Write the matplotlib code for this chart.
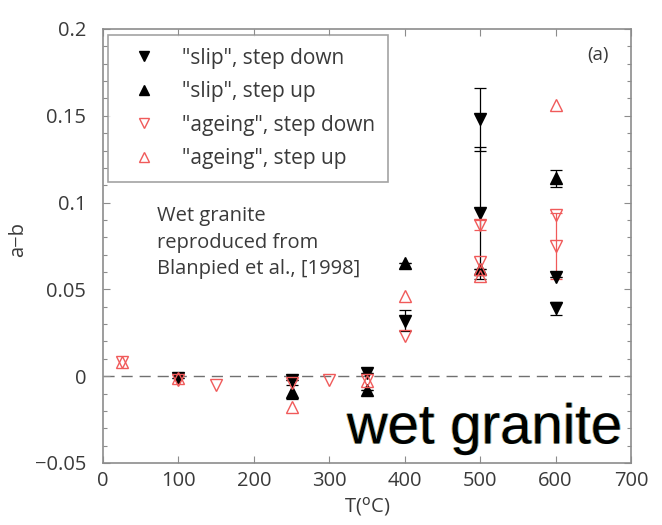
import numpy as np
import matplotlib.pyplot as plt
from matplotlib.ticker import MultipleLocator, FixedLocator, FixedFormatter
import matplotlib.patheffects as pe

plt.rcParams['font.family'] = ['Open Sans', 'DejaVu Sans']

# a-b values for wet granite, slip / ageing law fits
slip_down_T = [100, 250, 350, 400, 500, 500, 600, 600]
slip_down = [-0.001, -0.002, 0.002, 0.032, 0.148, 0.094, 0.057, 0.039]
slip_down_err = [0, 0, 0, 0.006, 0.018, 0.038, 0, 0.004]

slip_up_T = [250, 350, 400, 500, 600]
slip_up = [-0.009, -0.008, 0.065, 0.062, 0.114]
slip_up_err = [0.004, 0, 0, 0, 0.005]

ageing_down_T = [25, 100, 150, 250, 300, 350, 400, 500, 500, 600, 600]
ageing_down = [0.008, -0.002, -0.005, -0.004, -0.002, -0.002, 0.023, 0.087, 0.066, 0.093, 0.075]
ageing_down_err = [0, 0, 0, 0, 0, 0, 0, 0.003, 0, 0, 0.019]

ageing_up_T = [25, 100, 250, 350, 400, 500, 500, 600]
ageing_up = [0.008, -0.001, -0.018, -0.003, 0.046, 0.062, 0.058, 0.156]

red = '#f05a5a'
grey = '#8c8c8c'
txt = '#3a3a3a'
fs = 14.5

fig = plt.figure(figsize=(6.62, 5.25), dpi=100)
ax = fig.add_axes([103/662, 62/525, 528/662, 434/525])

ax.axhline(0, color='#707070', lw=1, ls=(0, (8, 5)), zorder=1)

# error bars
ax.errorbar(slip_down_T, slip_down, yerr=slip_down_err, fmt='none', ecolor='k',
            elinewidth=0.9, capsize=4, capthick=0.9, zorder=2)
ax.errorbar(slip_up_T, slip_up, yerr=slip_up_err, fmt='none', ecolor='k',
            elinewidth=0.9, capsize=4, capthick=0.9, zorder=2)
ad_T = np.array(ageing_down_T)
ad = np.array(ageing_down)
ad_e = np.array(ageing_down_err)
m = ad_e > 0
ax.errorbar(ad_T[m], ad[m], yerr=ad_e[m], fmt='none', ecolor=red,
            elinewidth=0.9, capsize=4, capthick=0.9, zorder=2)

ms = 9
ax.plot(slip_down_T, slip_down, 'v', color='k', ms=ms, ls='none',
        label='"slip", step down', zorder=3)
ax.plot(slip_up_T, slip_up, '^', color='k', ms=ms, ls='none',
        label='"slip", step up', zorder=3)
ax.plot(ageing_down_T, ageing_down, 'v', mfc='none', mec=red, mew=1.0, ms=ms,
        ls='none', label='"ageing", step down', zorder=4)
ax.plot(ageing_up_T, ageing_up, '^', mfc='none', mec=red, mew=1.0, ms=ms,
        ls='none', label='"ageing", step up', zorder=4)

ax.set_xlim(0, 700)
ax.set_ylim(-0.05, 0.2)
ax.xaxis.set_major_locator(MultipleLocator(100))
ax.yaxis.set_major_locator(FixedLocator([-0.05, 0, 0.05, 0.1, 0.15, 0.2]))
ax.yaxis.set_major_formatter(FixedFormatter(['\u22120.05', '0', '0.05', '0.1', '0.15', '0.2']))
ax.yaxis.set_minor_locator(MultipleLocator(0.01))
ax.tick_params(which='both', direction='in', top=True, right=True, color=grey,
               labelcolor=txt, labelsize=fs)
ax.tick_params(which='major', length=5, width=0.8)
ax.tick_params(which='minor', length=3, width=0.8)
ax.tick_params(axis='x', pad=6)
ax.tick_params(axis='y', pad=12)
for s in ax.spines.values():
    s.set_color(grey)
    s.set_linewidth(1.2)

ax.set_xlabel('T($^{\\mathrm{o}}$C)', color=txt, fontsize=fs, labelpad=3)
ax.set_ylabel('a\u2212b', color=txt, fontsize=fs, va='center', ha='center')
ax.yaxis.set_label_coords(-0.16, 0.514)

leg = ax.legend(loc='upper left', bbox_to_anchor=(0.01, 0.987), fontsize=15,
                frameon=True, fancybox=False, edgecolor=grey, handlelength=2.2,
                handletextpad=0.7, labelspacing=0.6, borderpad=0.62,
                borderaxespad=0, markerscale=0.8)
leg.get_frame().set_linewidth(1.2)
for t in leg.get_texts():
    t.set_color(txt)

ax.text(0.937, 0.94, '(a)', transform=ax.transAxes, ha='center', va='center',
        color=txt, fontsize=fs - 1)
ax.text(0.103, 0.508, 'Wet granite\nreproduced from\nBlanpied et al., [1998]',
        transform=ax.transAxes, ha='left', va='center', color=txt,
        fontsize=fs, linespacing=1.45)

# big caption with slight colour fringing on its edges
fringe = [pe.SimplePatchShadow(offset=(-0.7, 0), shadow_rgbFace='#e8a030', alpha=0.9),
          pe.SimplePatchShadow(offset=(0.7, 0), shadow_rgbFace='#58b8e8', alpha=0.9),
          pe.Normal()]
ax.text(0.983, 0.045, 'wet granite', transform=ax.transAxes, ha='right',
        va='baseline', fontsize=40.5, family='Liberation Sans', color='k',
        path_effects=fringe, zorder=6)

fig.savefig('out.png', dpi=100)
